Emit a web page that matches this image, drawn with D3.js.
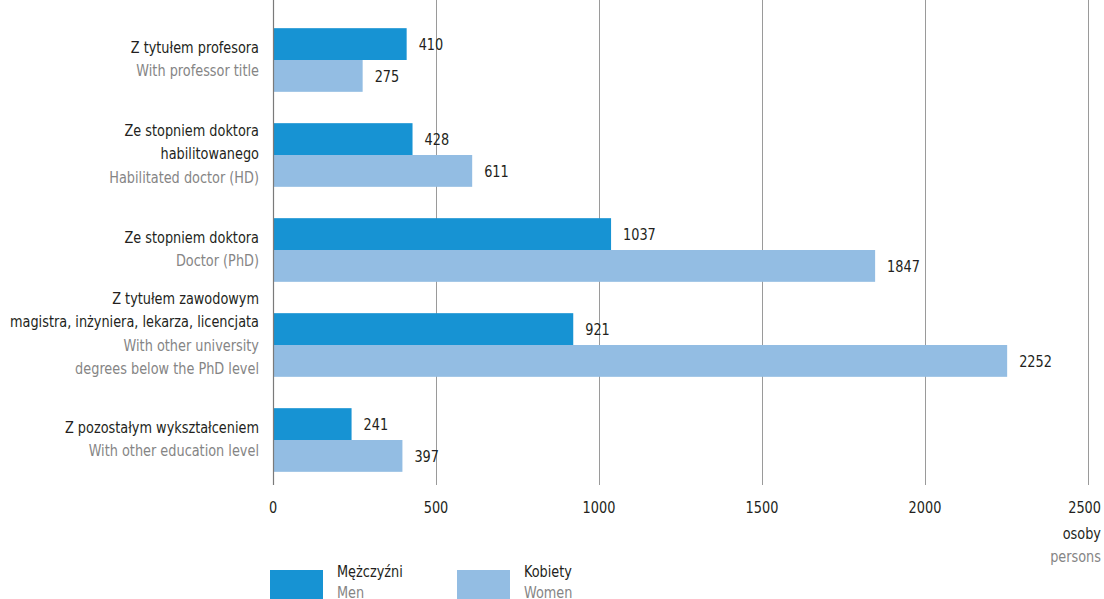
<!DOCTYPE html>
<html>
<head>
<meta charset="utf-8">
<script src="https://cdn.jsdelivr.net/npm/d3@7"></script>
<style>
  html, body { margin: 0; padding: 0; background: #fff; }
  svg { display: block; }
  text { font-family: "DejaVu Sans Condensed", "DejaVu Sans", sans-serif; font-stretch: condensed; }
</style>
</head>
<body>
<svg id="chart" width="1104" height="599"></svg>
<script>
// ---- data ----
const categoriesPL = [
  ["Z tytułem profesora"],
  ["Ze stopniem doktora", "habilitowanego"],
  ["Ze stopniem doktora"],
  ["Z tytułem zawodowym", "magistra, inżyniera, lekarza, licencjata"],
  ["Z pozostałym wykształceniem"]
];
const categoriesEN = [
  ["With professor title"],
  ["Habilitated doctor (HD)"],
  ["Doctor (PhD)"],
  ["With other university", "degrees below the PhD level"],
  ["With other education level"]
];
const men   = [410, 428, 1037, 921, 241];
const women = [275, 611, 1847, 2252, 397];
const xTicks = [0, 500, 1000, 1500, 2000, 2500];
const seriesPL = ["Mężczyźni", "Kobiety"];
const seriesEN = ["Men", "Women"];
const unitPL = "osoby";
const unitEN = "persons";

// ---- layout ----
const colors = ["#1793d3", "#93bde3"];
const dark = "#231f20", gray = "#858585";
const FS = 16.5;
const svg = d3.select("#chart");
const x = d3.scaleLinear().domain([0, 2500]).range([273, 1088]);
const idx = d3.range(men.length);
const y = d3.scaleBand().domain(idx).range([12.5, 487.5]).paddingInner(0.33).paddingOuter(0.165);
const sub = d3.scaleBand().domain([0, 1]).range([0, y.bandwidth()]);
const gridBottom = 485;
const rightEdge = 1101;

// condensing factor: reference string measured ~249px wide in the original
const probe = svg.append("text").attr("font-size", FS).text("magistra, inżyniera, lekarza, licencjata");
const squeeze = Math.min(1, 249 / probe.node().getComputedTextLength());
probe.remove();
function fit(sel) {
  sel.each(function () {
    const w = this.getComputedTextLength();
    if (w > 0) d3.select(this).attr("textLength", w * squeeze).attr("lengthAdjust", "spacingAndGlyphs");
  });
  return sel;
}

// gridlines
svg.append("g").selectAll("line").data(xTicks.slice(1)).join("line")
  .attr("x1", d => Math.round(x(d)) + 0.5).attr("x2", d => Math.round(x(d)) + 0.5)
  .attr("y1", 0).attr("y2", gridBottom)
  .attr("stroke", "#9a9a9a").attr("stroke-width", 1);

// bars
const groups = svg.append("g").selectAll("g").data(idx).join("g")
  .attr("transform", i => `translate(0,${y(i)})`);
[men, women].forEach((vals, s) => {
  groups.append("rect")
    .attr("x", x(0)).attr("y", sub(s))
    .attr("width", i => x(vals[i]) - x(0))
    .attr("height", sub.bandwidth())
    .attr("fill", colors[s]);
  fit(groups.append("text")
    .attr("x", i => x(vals[i]) + 12)
    .attr("y", sub(s) + sub.bandwidth() / 2)
    .attr("dy", "0.35em")
    .attr("font-size", FS).attr("fill", dark)
    .text(i => vals[i]));
});

// zero axis line
svg.append("line")
  .attr("x1", Math.round(x(0)) + 0.5).attr("x2", Math.round(x(0)) + 0.5)
  .attr("y1", 0).attr("y2", gridBottom)
  .attr("stroke", "#7a7a7a").attr("stroke-width", 1.2);

// category labels
const lh = 23.5;
idx.forEach(i => {
  const lines = categoriesPL[i].map(t => ({t, c: dark}))
    .concat(categoriesEN[i].map(t => ({t, c: gray})));
  const n = lines.length;
  const shift = n > 3 ? -12 : -1.5;
  const cy = y(i) + y.bandwidth() / 2 + shift;
  lines.forEach((l, k) => {
    fit(svg.append("text")
      .attr("x", 259).attr("y", cy + (k - (n - 1) / 2) * lh)
      .attr("dy", "0.35em").attr("text-anchor", "end")
      .attr("font-size", FS).attr("fill", l.c)
      .text(l.t));
  });
});

// x axis tick labels (last one kept inside the right edge)
fit(svg.append("g").selectAll("text").data(xTicks).join("text")
  .attr("x", d => x(d)).attr("y", 507).attr("dy", "0.35em")
  .attr("text-anchor", "middle").attr("font-size", FS).attr("fill", dark)
  .text(d => d))
  .each(function (d) {
    const w = this.getComputedTextLength() * squeeze;
    if (x(d) + w / 2 > rightEdge) d3.select(this).attr("text-anchor", "end").attr("x", rightEdge);
  });
fit(svg.append("text").attr("x", rightEdge).attr("y", 533).attr("dy", "0.35em")
  .attr("text-anchor", "end").attr("font-size", FS).attr("fill", dark).text(unitPL));
fit(svg.append("text").attr("x", rightEdge).attr("y", 556).attr("dy", "0.35em")
  .attr("text-anchor", "end").attr("font-size", FS).attr("fill", gray).text(unitEN));

// legend
const legX = [270, 457];
seriesPL.forEach((s, k) => {
  svg.append("rect").attr("x", legX[k]).attr("y", 570).attr("width", 53).attr("height", 30)
    .attr("fill", colors[k]);
  fit(svg.append("text").attr("x", legX[k] + 67).attr("y", 571).attr("dy", "0.35em")
    .attr("font-size", FS).attr("fill", dark).text(s));
  fit(svg.append("text").attr("x", legX[k] + 67).attr("y", 592).attr("dy", "0.35em")
    .attr("font-size", FS).attr("fill", gray).text(seriesEN[k]));
});
</script>
</body>
</html>
